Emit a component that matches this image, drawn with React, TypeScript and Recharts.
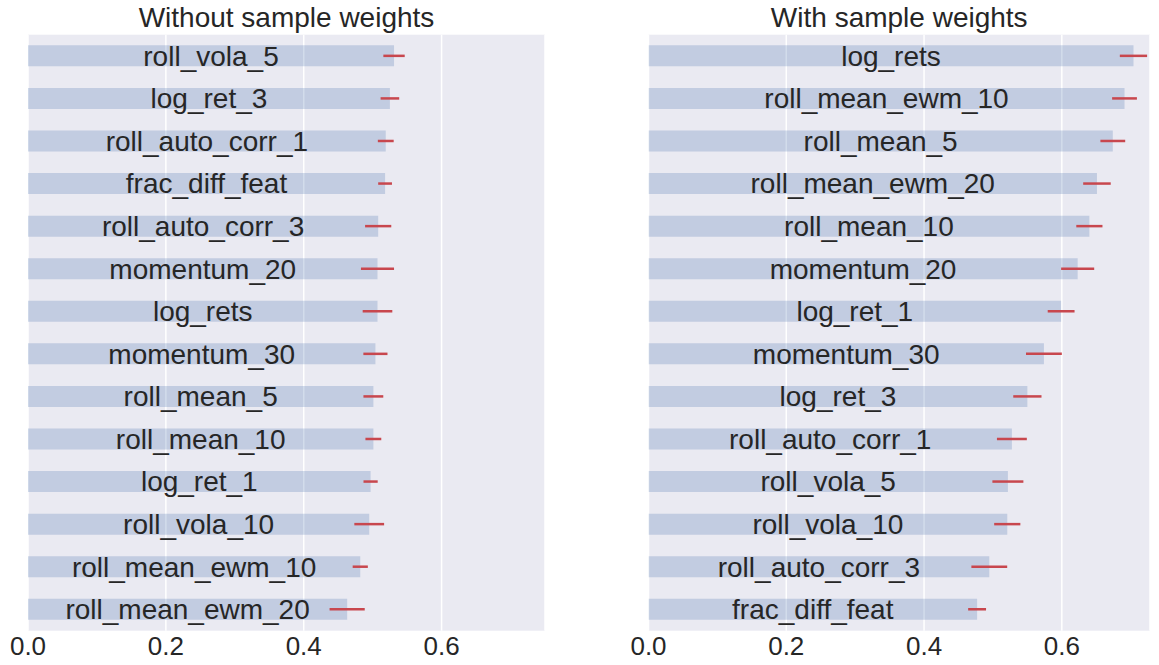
import { BarChart, Bar, XAxis, YAxis, CartesianGrid, ErrorBar, LabelList } from 'recharts';

const leftFeatures = [
  'roll_vola_5', 'log_ret_3', 'roll_auto_corr_1', 'frac_diff_feat', 'roll_auto_corr_3',
  'momentum_20', 'log_rets', 'momentum_30', 'roll_mean_5', 'roll_mean_10',
  'log_ret_1', 'roll_vola_10', 'roll_mean_ewm_10', 'roll_mean_ewm_20',
];
const leftMeans = [0.531, 0.525, 0.519, 0.518, 0.508, 0.507, 0.507, 0.504, 0.501, 0.501, 0.497, 0.495, 0.482, 0.463];
const leftStd = [0.0155, 0.0135, 0.0115, 0.01, 0.019, 0.024, 0.0215, 0.0175, 0.0144, 0.0115, 0.0103, 0.0216, 0.011, 0.0255];

const rightFeatures = [
  'log_rets', 'roll_mean_ewm_10', 'roll_mean_5', 'roll_mean_ewm_20', 'roll_mean_10',
  'momentum_20', 'log_ret_1', 'momentum_30', 'log_ret_3', 'roll_auto_corr_1',
  'roll_vola_5', 'roll_vola_10', 'roll_auto_corr_3', 'frac_diff_feat',
];
const rightMeans = [0.704, 0.691, 0.674, 0.651, 0.64, 0.623, 0.599, 0.574, 0.55, 0.5275, 0.5217, 0.5208, 0.4947, 0.477];
const rightStd = [0.0198, 0.018, 0.018, 0.02, 0.019, 0.024, 0.0195, 0.026, 0.0205, 0.0217, 0.0225, 0.019, 0.026, 0.013];

const xTicks = [0, 0.2, 0.4, 0.6];

const FONT = '"Liberation Sans", Arial, sans-serif';
const TEXT = '#262626';

function Panel({ title, names, means, stds, xMax, left, width, marginLeft, marginRight }: any) {
  const data = names.map((n: string, i: number) => ({ name: n, value: means[i], err: stds[i] }));
  const plotCenter = marginLeft + (width - marginLeft - marginRight) / 2;
  return (
    <div style={{ position: 'absolute', left, top: 0, width, height: 665 }}>
      <div
        style={{
          position: 'absolute',
          top: 2,
          left: plotCenter - 250,
          width: 500,
          textAlign: 'center',
          fontSize: 28,
          color: TEXT,
          fontFamily: FONT,
          lineHeight: '32px',
        }}
      >
        {title}
      </div>
      <BarChart
        width={width}
        height={665}
        data={data}
        layout="vertical"
        barCategoryGap="25%"
        margin={{ top: 34.7, right: marginRight, bottom: 4.3, left: marginLeft }}
      >
        <CartesianGrid horizontal={false} stroke="#FFFFFF" strokeWidth={1.5} fill="#EAEAF2" />
        <XAxis
          type="number"
          domain={[0, xMax]}
          ticks={xTicks}
          interval={0}
          allowDataOverflow
          height={30}
          axisLine={false}
          tickLine={false}
          tickSize={0}
          tickMargin={6}
          tickFormatter={(v: number) => v.toFixed(1)}
          tick={{ fontSize: 26, fill: TEXT, fontFamily: FONT }}
        />
        <YAxis type="category" dataKey="name" hide />
        <Bar dataKey="value" fill="#4C72B0" fillOpacity={0.25} isAnimationActive={false}>
          <ErrorBar dataKey="err" direction="x" width={0} stroke="#C8474E" strokeWidth={2.5} />
          <LabelList
            dataKey="name"
            position="center"
            fill={TEXT}
            style={{ fontSize: 28, fontFamily: FONT }}
          />
        </Bar>
      </BarChart>
    </div>
  );
}

export default function App() {
  return (
    <div style={{ position: 'absolute', left: 0, top: 0, width: 1159, height: 665, background: '#FFFFFF' }}>
      <Panel
        title="Without sample weights"
        names={leftFeatures}
        means={leftMeans}
        stds={leftStd}
        xMax={0.75}
        left={0}
        width={580}
        marginLeft={28}
        marginRight={35}
      />
      <Panel
        title="With sample weights"
        names={rightFeatures}
        means={rightMeans}
        stds={rightStd}
        xMax={0.728}
        left={620}
        width={539}
        marginLeft={28.5}
        marginRight={9}
      />
    </div>
  );
}
